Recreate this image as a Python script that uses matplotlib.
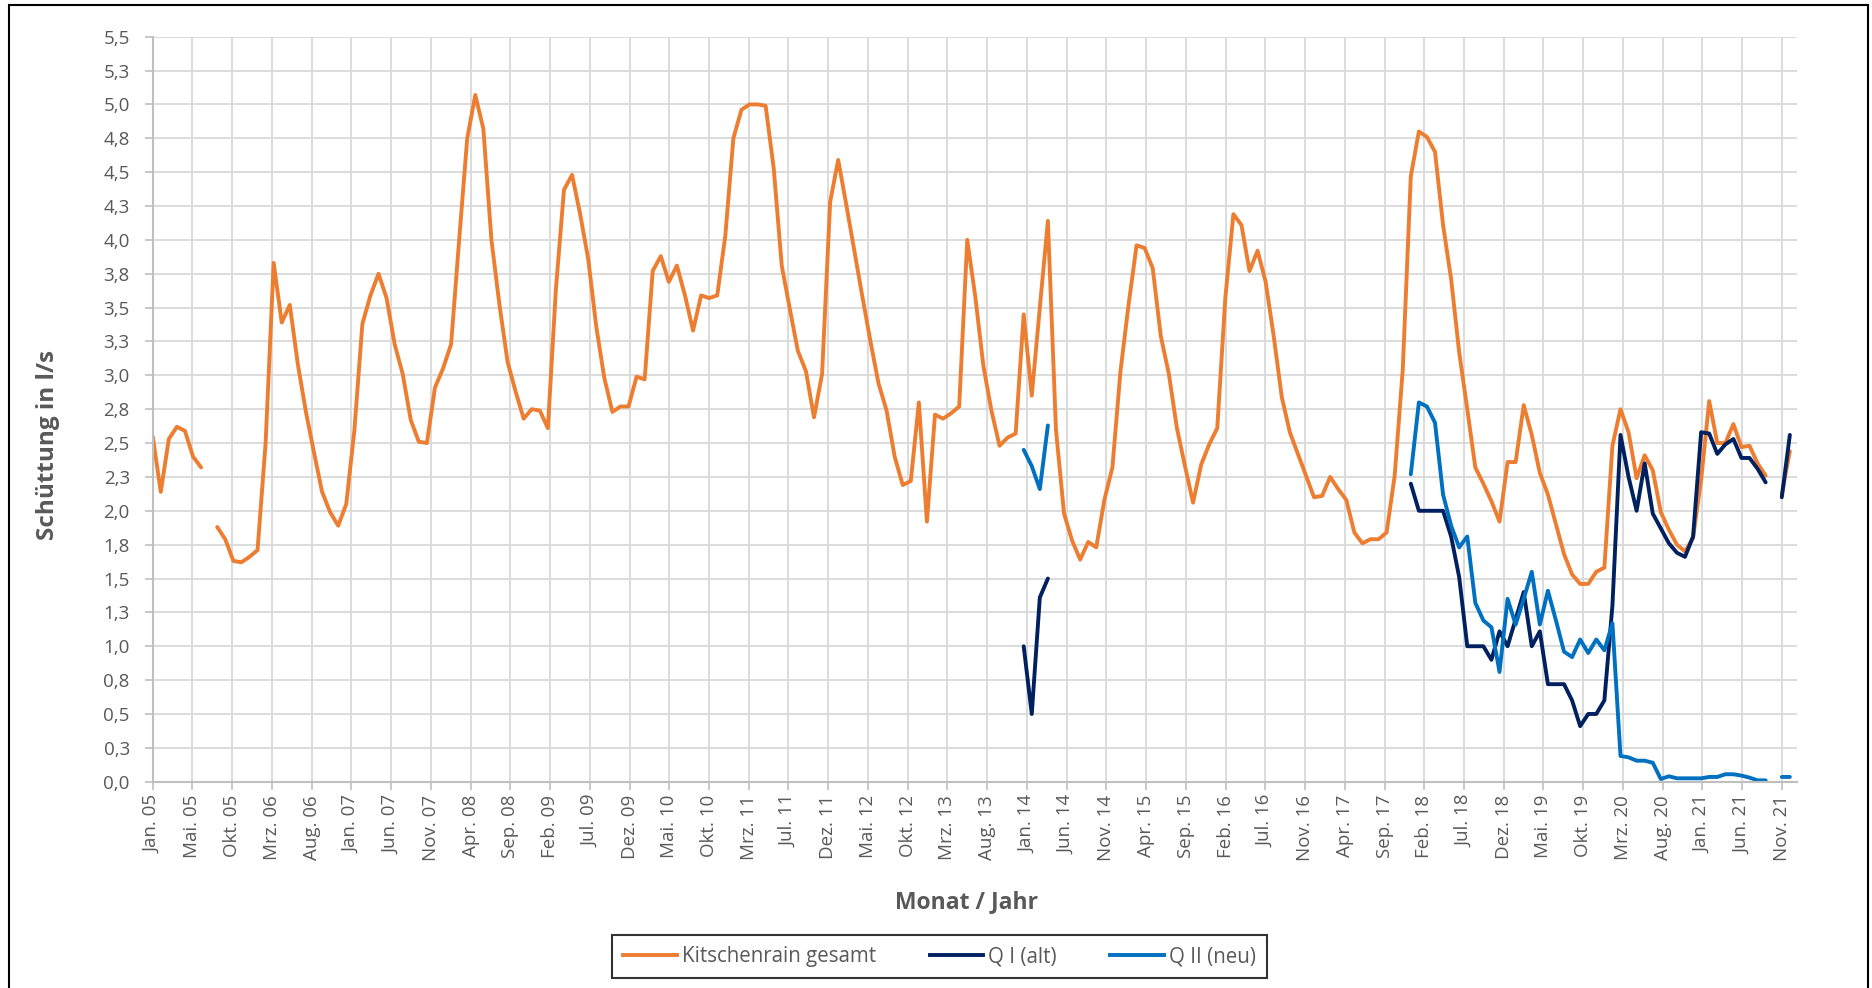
import numpy as np
import matplotlib.pyplot as plt
from matplotlib.patches import Rectangle
from matplotlib.lines import Line2D
from matplotlib.ticker import FuncFormatter
from decimal import Decimal, ROUND_HALF_UP

plt.rcParams['font.family'] = ['Open Sans', 'DejaVu Sans']

# category labels of the x axis (every 5th category)
tick_labels = ['Jan. 05', 'Mai. 05', 'Okt. 05', 'Mrz. 06', 'Aug. 06', 'Jan. 07', 'Jun. 07',
               'Nov. 07', 'Apr. 08', 'Sep. 08', 'Feb. 09', 'Jul. 09', 'Dez. 09', 'Mai. 10',
               'Okt. 10', 'Mrz. 11', 'Jul. 11', 'Dez. 11', 'Mai. 12', 'Okt. 12', 'Mrz. 13',
               'Aug. 13', 'Jan. 14', 'Jun. 14', 'Nov. 14', 'Apr. 15', 'Sep. 15', 'Feb. 16',
               'Jul. 16', 'Nov. 16', 'Apr. 17', 'Sep. 17', 'Feb. 18', 'Jul. 18', 'Dez. 18',
               'Mai. 19', 'Okt. 19', 'Mrz. 20', 'Aug. 20', 'Jan. 21', 'Jun. 21', 'Nov. 21']

# monthly values Jan 2005 - Dez 2021 (None = no measurement)
gesamt = [
    2.55, 2.14, 2.53, 2.62, 2.59, 2.40, 2.32, None, 1.88, 1.79, 1.63, 1.62, 1.66, 1.71, 2.50,
    3.83, 3.39, 3.52, 3.08, 2.73, 2.43, 2.14, 1.99, 1.89, 2.05, 2.59, 3.38, 3.59, 3.75, 3.57,
    3.23, 3.01, 2.67, 2.51, 2.50, 2.91, 3.05, 3.23, 4.00, 4.75, 5.07,
    4.82, 4.00, 3.52, 3.10, 2.88, 2.68, 2.75, 2.74, 2.61, 3.64, 4.37, 4.48, 4.19, 3.86, 3.36,
    2.98, 2.73, 2.77, 2.77, 2.99, 2.97, 3.77, 3.88, 3.69, 3.81, 3.59, 3.33, 3.59, 3.57, 3.59,
    4.03, 4.75, 4.96, 5.00, 5.00, 4.99, 4.53, 3.81, 3.49, 3.18, 3.03,
    2.69, 3.01, 4.28, 4.59, 4.26, 3.92, 3.58, 3.25, 2.94, 2.74, 2.40, 2.19, 2.22, 2.80, 1.92,
    2.71, 2.68, 2.72, 2.77, 4.00, 3.58, 3.07, 2.74, 2.48, 2.54, 2.57, 3.45, 2.85, 3.50, 4.14,
    2.60, 1.98, 1.78, 1.64, 1.77, 1.73, 2.08, 2.32, 3.03, 3.52, 3.96,
    3.94, 3.79, 3.29, 3.01, 2.61, 2.33, 2.06, 2.34, 2.49, 2.61, 3.57, 4.19, 4.11, 3.77, 3.92,
    3.69, 3.29, 2.84, 2.58, 2.42, 2.26, 2.10, 2.11, 2.25, 2.16, 2.08, 1.84, 1.76, 1.79, 1.79,
    1.84, 2.26, 3.04, 4.47, 4.80, 4.76, 4.65, 4.11, 3.71,
    3.17, 2.75, 2.32, 2.20, 2.07, 1.92, 2.36, 2.36, 2.78, 2.56, 2.28, 2.12, 1.90, 1.68, 1.53,
    1.46, 1.46, 1.55, 1.58, 2.48, 2.75, 2.58, 2.24, 2.41, 2.30, 1.99, 1.86, 1.75, 1.70, 1.80,
    2.23, 2.81, 2.50, 2.50, 2.64, 2.47, 2.48, 2.35, 2.26, None, 2.12, 2.44,
]

# Q I (alt): segments with their first month index
q1_2014 = [1.00, 0.50, 1.36, 1.50]                      # from Jan 2014
q1_2018 = [2.20, 2.00, 2.00, 2.00, 2.00, 1.81, 1.51, 1.00, 1.00, 1.00, 0.90, 1.11, 1.00,
           1.20, 1.40, 1.00, 1.11, 0.72, 0.72, 0.72, 0.60, 0.41, 0.50, 0.50, 0.60, 1.30,
           2.56, 2.25, 2.00, 2.35, 1.98, 1.87, 1.76, 1.69, 1.66, 1.81, 2.58, 2.57, 2.42,
           2.49, 2.53, 2.39, 2.39, 2.31, 2.21]               # from Jan 2018
q1_2021 = [2.10, 2.56]                                   # from Nov 2021

# Q II (neu)
q2_2014 = [2.45, 2.33, 2.16, 2.63]
q2_2018 = [2.27, 2.80, 2.77, 2.65, 2.12, 1.89, 1.73, 1.81, 1.32, 1.19, 1.14, 0.81, 1.35,
           1.16, 1.35, 1.55, 1.16, 1.41, 1.19, 0.96, 0.92, 1.05, 0.95, 1.05, 0.97, 1.17,
           0.19, 0.18, 0.155, 0.155, 0.14, 0.02, 0.04, 0.025, 0.025, 0.025, 0.025, 0.035,
           0.035, 0.055, 0.055, 0.045, 0.03, 0.01, 0.01]
q2_2021 = [0.035, 0.035]

n_months = len(gesamt)


def series(parts):
    s = np.full(n_months, np.nan)
    for start, vals in parts:
        s[start:start + len(vals)] = vals
    return s


orange = np.array([np.nan if v is None else v for v in gesamt])
q1 = series([(108, q1_2014), (156, q1_2018), (202, q1_2021)])
q2 = series([(108, q2_2014), (156, q2_2018), (202, q2_2021)])

# months spread over the 207 categories of the axis
n_cat = 5 * (len(tick_labels) - 1) + 1
x = np.arange(n_months) * n_cat / (n_months - 1)

c_orange = '#ED7D31'
c_navy = '#002060'
c_blue = '#0070C0'
grey = '#595959'

fig = plt.figure(figsize=(18.72, 9.88), dpi=100)
ax = fig.add_axes([152.7 / 1872, 1 - 781.7 / 988, (1797 - 152.7) / 1872, (781.7 - 36.7) / 988])

ax.plot(x, orange, color=c_orange, lw=2.8, solid_joinstyle='round', solid_capstyle='round')
ax.plot(x, q1, color=c_navy, lw=2.8, solid_joinstyle='round', solid_capstyle='round')
ax.plot(x, q2, color=c_blue, lw=2.8, solid_joinstyle='round', solid_capstyle='round')

ax.set_xlim(0, n_cat + 0.9)
ax.set_ylim(0, 5.5)
ax.set_yticks(np.arange(0, 5.51, 0.25))


def de_fmt(v, pos):
    d = Decimal(str(round(v, 4))).quantize(Decimal('0.1'), rounding=ROUND_HALF_UP)
    return str(d).replace('.', ',')


ax.yaxis.set_major_formatter(FuncFormatter(de_fmt))
ax.set_xticks(np.arange(0, n_cat, 5))
ax.set_xticklabels(tick_labels, rotation=90)

ax.grid(True, color='#d9d9d9', lw=1.3)
ax.set_axisbelow(True)
for s in ['top', 'right']:
    ax.spines[s].set_visible(False)
for s in ['left', 'bottom']:
    ax.spines[s].set_color('#bfbfbf')
    ax.spines[s].set_linewidth(1.5)
ax.tick_params(axis='y', direction='out', length=5.5, width=1.2, color='#bfbfbf',
               labelsize=13.5, labelcolor=grey, pad=11)
ax.tick_params(axis='x', direction='out', length=5.5, width=1.2, color='#bfbfbf',
               labelsize=13.5, labelcolor=grey, pad=4)

fig.text(48 / 1872, 1 - 445 / 988, 'Schüttung in l/s', rotation=90, ha='center', va='center',
         fontsize=17.5, fontweight='bold', color=grey)
fig.text(966.7 / 1872, 1 - 902 / 988, 'Monat / Jahr', ha='center', va='center',
         fontsize=16.5, fontweight='bold', color=grey)

handles = [Line2D([], [], color=c_orange, lw=2.8),
           Line2D([], [], color=c_navy, lw=2.8),
           Line2D([], [], color=c_blue, lw=2.8)]
leg = fig.legend(handles, ['Kitschenrain gesamt', 'Q I (alt)', 'Q II (neu)'],
                 loc='center', bbox_to_anchor=(939.5 / 1872, 1 - 956.5 / 988), ncol=3,
                 fontsize=14.8, frameon=True, fancybox=False, edgecolor='black',
                 handlelength=2.6, handletextpad=0.25, columnspacing=2.6, borderpad=0.55)
leg.get_frame().set_linewidth(1.5)
for t in leg.get_texts():
    t.set_color(grey)

fig.patches.append(Rectangle((9 / 1872, -0.05), (1868 - 9) / 1872, 1 - 5 / 988 + 0.05,
                             transform=fig.transFigure, fill=False, edgecolor='black', lw=1.5))

fig.savefig('out.png', dpi=100)
